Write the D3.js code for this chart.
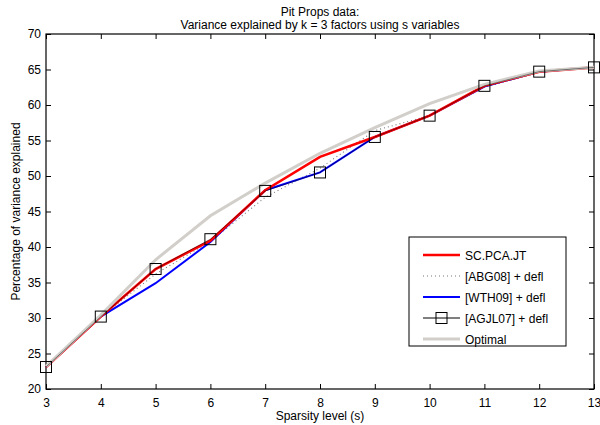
<!DOCTYPE html>
<html>
<head>
<meta charset="utf-8">
<script src="https://cdn.jsdelivr.net/npm/d3@7"></script>
<style>
  body { margin: 0; background: #fff; }
  text { font-family: "Liberation Sans", Arial, Helvetica, sans-serif; }
</style>
</head>
<body>
<svg id="chart" width="600" height="425"></svg>
<script>
// sparsity levels (x)
const sparsity = [3, 4, 5, 6, 7, 8, 9, 10, 11, 12, 13];

// percentage of variance explained per method
const scpcajt = [23.1, 30.2, 36.9, 40.9, 48.0, 52.7, 55.5, 58.5, 62.7, 64.7, 65.3];
const abg08   = [23.1, 30.2, 36.2, 40.8, 47.0, 51.1, 56.4, 58.5, 62.5, 64.6, 65.3];
const wth09   = [23.1, 30.2, 34.9, 40.7, 48.0, 50.5, 55.5, 58.5, 62.6, 64.7, 65.3];
const agjl07  = [23.1, 30.2, 36.9, 41.1, 47.9, 50.5, 55.5, 58.5, 62.7, 64.7, 65.3];
const optimal = [23.2, 30.4, 38.2, 44.4, 49.0, 53.2, 56.8, 60.2, 62.9, 64.8, 65.3];

const xTicks = [3, 4, 5, 6, 7, 8, 9, 10, 11, 12, 13];
const yTicks = [20, 25, 30, 35, 40, 45, 50, 55, 60, 65, 70];

const svg = d3.select("#chart");
const margin = { top: 34, right: 6, bottom: 36, left: 46 };
const width = 600 - margin.left - margin.right;
const height = 425 - margin.top - margin.bottom;

const x = d3.scaleLinear().domain([3, 13]).range([0, width]);
const y = d3.scaleLinear().domain([20, 70]).range([height, 0]);

const g = svg.append("g").attr("transform", `translate(${margin.left},${margin.top})`);

// axes: inward ticks on all four sides, matlab style
const styleAxis = (sel) => {
    sel.select(".domain").remove();
    sel.selectAll("line").attr("stroke", "#000");
    sel.selectAll("text").style("font-size", "12px").attr("fill", "#000");
};

g.append("g")
    .attr("transform", `translate(0,${height})`)
    .call(d3.axisBottom(x).tickValues(xTicks).tickSizeInner(-5).tickPadding(9).tickFormat(d3.format("d")))
    .call(styleAxis);
g.append("g")
    .call(d3.axisTop(x).tickValues(xTicks).tickSizeInner(-5).tickFormat(""))
    .call(styleAxis);
g.append("g")
    .call(d3.axisLeft(y).tickValues(yTicks).tickSizeInner(-5).tickPadding(5).tickFormat(d3.format("d")))
    .call(styleAxis);
g.append("g")
    .attr("transform", `translate(${width},0)`)
    .call(d3.axisRight(y).tickValues(yTicks).tickSizeInner(-5).tickFormat(""))
    .call(styleAxis);

g.append("rect")
    .attr("width", width).attr("height", height)
    .attr("fill", "none").attr("stroke", "#000").attr("stroke-width", 1.2);

const line = (vals) => d3.line()
    .x((d, i) => x(sparsity[i]))
    .y(d => y(d))(vals);

g.append("path").attr("d", line(abg08)).attr("fill", "none")
    .attr("stroke", "#777").attr("stroke-width", 1.1).attr("stroke-dasharray", "1,3");
g.append("path").attr("d", line(wth09)).attr("fill", "none")
    .attr("stroke", "#0000ff").attr("stroke-width", 2);
g.append("path").attr("d", line(scpcajt)).attr("fill", "none")
    .attr("stroke", "#ff0000").attr("stroke-width", 2.6);
g.append("path").attr("d", line(optimal)).attr("fill", "none")
    .attr("stroke", "#d2cfca").attr("stroke-width", 3);
g.append("path").attr("d", line(agjl07)).attr("fill", "none")
    .attr("stroke", "#000").attr("stroke-width", 0.8).attr("stroke-opacity", 0.6);

g.selectAll(".sq")
    .data(agjl07)
    .enter().append("rect")
    .attr("class", "sq")
    .attr("x", (d, i) => x(sparsity[i]) - 5.5)
    .attr("y", d => y(d) - 5.5)
    .attr("width", 11).attr("height", 11)
    .attr("fill", "none").attr("stroke", "#000").attr("stroke-width", 1);

// titles
svg.append("text").attr("x", margin.left + width / 2).attr("y", 16)
    .attr("text-anchor", "middle").style("font-size", "12px").text("Pit Props data:");
svg.append("text").attr("x", margin.left + width / 2).attr("y", 29)
    .attr("text-anchor", "middle").style("font-size", "12px")
    .text("Variance explained by k = 3 factors using s variables");
svg.append("text").attr("x", margin.left + width / 2).attr("y", 420)
    .attr("text-anchor", "middle").style("font-size", "12px").text("Sparsity level (s)");
svg.append("text")
    .attr("transform", `translate(20,${margin.top + height / 2}) rotate(-90)`)
    .attr("text-anchor", "middle").style("font-size", "12px")
    .text("Percentage of variance explained");

// legend
const legendItems = [
    { name: "SC.PCA.JT", color: "#ff0000", w: 2.6 },
    { name: "[ABG08] + defl", color: "#777", w: 1.1, dash: "1,3" },
    { name: "[WTH09] + defl", color: "#0000ff", w: 2 },
    { name: "[AGJL07] + defl", color: "#000", w: 1, marker: true },
    { name: "Optimal", color: "#d2cfca", w: 3 }
];
const lg = svg.append("g").attr("transform", "translate(409,237)");
lg.append("rect").attr("width", 157).attr("height", 109)
    .attr("fill", "#fff").attr("stroke", "#000").attr("stroke-width", 1);
legendItems.forEach((d, i) => {
    const yy = 18 + i * 21;
    lg.append("line").attr("x1", 14).attr("x2", 51).attr("y1", yy).attr("y2", yy)
        .attr("stroke", d.color).attr("stroke-width", d.w)
        .attr("stroke-dasharray", d.dash || null);
    if (d.marker) {
        lg.append("rect").attr("x", 32.5 - 5.5).attr("y", yy - 5.5)
            .attr("width", 11).attr("height", 11)
            .attr("fill", "none").attr("stroke", "#000");
    }
    lg.append("text").attr("x", 56).attr("y", yy + 4.5)
        .style("font-size", "12px").text(d.name);
});
</script>
</body>
</html>
